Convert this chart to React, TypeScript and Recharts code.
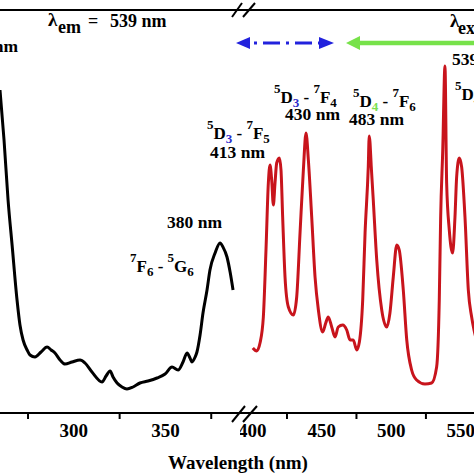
import { Line, LineChart, ReferenceLine, XAxis, YAxis } from "recharts";

// excitation spectrum (black), monitored at 539 nm
const excWavelength = [259.7, 261.9, 264.1, 266.3, 269.0, 270.6, 272.3, 274.5, 276.1, 278.8, 282.1, 285.4, 287.6, 289.7, 292.5, 295.2, 299.0, 303.4, 306.1, 309.9, 315.4, 317.6, 319.8, 321.4, 323.6, 326.3, 329.0, 332.3, 336.1, 340.5, 345.4, 349.8, 353.6, 356.9, 359.6, 361.8, 363.4, 364.5, 366.2, 367.2, 368.9, 370.5, 372.7, 374.3, 377.1, 379.8, 381.4, 383.6, 385.3, 386.9];
const excIntensity = [323, 273, 213, 168, 113, 88, 73, 63, 58, 56, 61, 66, 63, 60, 53, 49, 51, 53, 50, 41, 31, 37, 42, 36, 30, 26, 24, 26, 30, 32, 35, 39, 46, 43, 51, 60, 55, 51, 56, 61, 78, 100, 123, 143, 160, 170, 166, 156, 141, 123];

// emission spectrum (red)
const emWavelength = [400.4, 403.2, 405.6, 408.0, 409.9, 411.6, 412.8, 414.0, 415.2, 416.4, 417.6, 419.5, 420.7, 421.9, 423.6, 426.0, 429.6, 432.0, 434.4, 436.8, 438.7, 440.4, 442.8, 445.2, 447.6, 450.7, 452.9, 454.7, 457.2, 459.6, 461.9, 465.1, 468.0, 470.4, 472.7, 475.2, 477.1, 479.5, 481.2, 483.5, 484.2, 485.8, 487.1, 489.6, 493.2, 496.8, 499.1, 501.5, 504.0, 505.8, 508.7, 511.2, 514.7, 518.3, 524.3, 529.1, 532.7, 534.6, 535.6, 537.1, 538.7, 539.9, 541.8, 544.2, 545.9, 547.1, 549.0, 550.7, 553.1, 555.5, 557.9, 559.6, 562.5];
const emIntensity = [65, 62, 70, 96, 163, 230, 248, 233, 208, 230, 250, 255, 243, 196, 136, 106, 98, 116, 180, 243, 280, 253, 196, 136, 103, 81, 90, 96, 86, 76, 86, 88, 83, 73, 73, 63, 71, 113, 180, 246, 277, 243, 213, 153, 103, 86, 100, 136, 168, 163, 123, 73, 43, 33, 29, 30, 46, 113, 196, 263, 347, 230, 183, 160, 196, 236, 255, 246, 196, 123, 96, 83, 68];

const leftTicks = [275, 300, 325, 350, 375];
const rightTicks = [400, 425, 450, 475, 500, 525, 550, 575];
const leftDomain = [259.7, 390.7];
const rightDomain = [391.2, 578.3];
const topIntensity = 403;

const excData = excWavelength.map((w, i) => ({ w, v: excIntensity[i] }));
const emData = emWavelength.map((w, i) => ({ w, v: emIntensity[i] }));

const FONT = "'Liberation Serif', 'Times New Roman', serif";

// axis x position of a wavelength (same mapping as the two panels)
const LEFT_W = 240;
const RIGHT_W = 260;
const xOf = (w: number) =>
  w < 391
    ? ((w - leftDomain[0]) / (leftDomain[1] - leftDomain[0])) * LEFT_W
    : LEFT_W + ((w - rightDomain[0]) / (rightDomain[1] - rightDomain[0])) * RIGHT_W;
const minorTicks = [...leftTicks, ...rightTicks].filter((t) => t % 50 !== 0);

const Tick = (props: any) => {
  const { x, y, payload } = props;
  const v = payload.value;
  if (v % 50 !== 0) return <g />;
  return (
    <text x={x} y={y + 16} textAnchor="middle" fontFamily={FONT} fontWeight="bold" fontSize={19} fill="#000">
      {v}
    </text>
  );
};

type TermProps = { x: number; y: number; p: string[]; c?: string };
function Term({ x, y, p, c = "#000" }: TermProps) {
  return (
    <text x={x} y={y} fontFamily={FONT} fontWeight="bold" fill="#000">
      <tspan fontSize={13} dy={-10}>{p[0]}</tspan>
      <tspan fontSize={17} dy={10}>{p[1]}</tspan>
      <tspan fontSize={13} dy={4} fill={c}>{p[2]}</tspan>
      <tspan fontSize={17} dy={-4}> - </tspan>
      <tspan fontSize={13} dy={-10}>{p[3]}</tspan>
      <tspan fontSize={17} dy={10}>{p[4]}</tspan>
      <tspan fontSize={13} dy={4}>{p[5]}</tspan>
    </text>
  );
}

const lbl = { fontFamily: FONT, fontWeight: "bold" as const, fontSize: 17.5, fill: "#000" };

function Panel({ data, domain, ticks, color, left, width }: any) {
  return (
    <div style={{ position: "absolute", left, top: 0 }}>
      <LineChart width={width} height={474} data={data} margin={{ top: 10, right: 0, bottom: 0, left: 0 }}>
        <XAxis dataKey="w" type="number" domain={domain} ticks={ticks} interval={0} height={61} tickLine={false} tick={<Tick />} axisLine={{ stroke: "#000", strokeWidth: 2 }} />
        <YAxis hide type="number" domain={[0, topIntensity]} />
        <ReferenceLine y={topIntensity} stroke="#000" strokeWidth={2} ifOverflow="visible" />
        <Line type="monotone" dataKey="v" stroke={color} strokeWidth={3} dot={false} isAnimationActive={false} />
      </LineChart>
    </div>
  );
}

export default function App() {
  return (
    <div style={{ position: "absolute", left: 0, top: 0, width: 474, height: 474, overflow: "hidden", background: "#fff" }}>
      <svg width={474} height={474} style={{ position: "absolute", left: 0, top: 0 }}>
        {/* excitation / emission arrows */}
        <line x1={254} y1={43} x2={320} y2={43} stroke="#2222dd" strokeWidth={3} strokeDasharray="3 6 17 6" />
        <polygon points="236,43 250,37 250,49" fill="#2222dd" />
        <polygon points="334,43 319,37 319,49" fill="#2222dd" />
        <line x1={358} y1={43} x2={474} y2={43} stroke="#77e24a" strokeWidth={4.5} />
        <polygon points="346,43 360,36 360,50" fill="#77e24a" />

        <text x={48} y={26} {...lbl} fontSize={19}>λ</text>
        <text x={58} y={33} {...lbl} fontSize={18}>em</text>
        <text x={88} y={27} {...lbl} fontSize={18}>=</text>
        <text x={110} y={27} {...lbl} fontSize={18}>539 nm</text>
        <text x={450} y={27} {...lbl} fontSize={19}>λ</text>
        <text x={458} y={34} {...lbl} fontSize={18}>ex</text>
        <text x={18} y={52} {...lbl} textAnchor="end">nm</text>

        <Term x={274} y={103} p={["5", "D", "3", "7", "F", "4"]} c="#2b2bcc" />
        <text x={312.5} y={120} {...lbl} textAnchor="middle">430 nm</text>
        <Term x={353} y={107} p={["5", "D", "4", "7", "F", "6"]} c="#7be04e" />
        <text x={376.5} y={125} {...lbl} textAnchor="middle">483 nm</text>
        <Term x={207} y={139} p={["5", "D", "3", "7", "F", "5"]} c="#2b2bcc" />
        <text x={237.5} y={158} {...lbl} textAnchor="middle">413 nm</text>
        <text x={194.5} y={228} {...lbl} textAnchor="middle">380 nm</text>
        <Term x={130} y={272} p={["7", "F", "6", "5", "G", "6"]} />
        <text x={452} y={65} {...lbl}>539 nm</text>
        <Term x={455} y={100} p={["5", "D", "4", "7", "F", "5"]} />

        <text x={238} y={469} {...lbl} fontSize={19} textAnchor="middle">Wavelength (nm)</text>
      </svg>
      <Panel data={excData} domain={leftDomain} ticks={leftTicks} color="#000" left={0} width={LEFT_W} />
      <Panel data={emData} domain={rightDomain} ticks={rightTicks} color="#c8141c" left={LEFT_W} width={RIGHT_W} />
      <svg width={474} height={474} style={{ position: "absolute", left: 0, top: 0, pointerEvents: "none" }}>
        {/* top frame, minor ticks and axis breaks */}
        <line x1={0} y1={10} x2={474} y2={10} stroke="#000" strokeWidth={2} />
        {minorTicks.map((t) => (
          <line key={t} x1={xOf(t)} x2={xOf(t)} y1={413} y2={419} stroke="#000" strokeWidth={2} />
        ))}
        <g stroke="#000" strokeWidth={2}>
          <line x1={232} y1={17} x2={242} y2={3} />
          <line x1={243} y1={17} x2={255} y2={3} />
          <line x1={232} y1={422} x2={245} y2={406} />
          <line x1={243} y1={422} x2={257} y2={406} />
        </g>
      </svg>
    </div>
  );
}
